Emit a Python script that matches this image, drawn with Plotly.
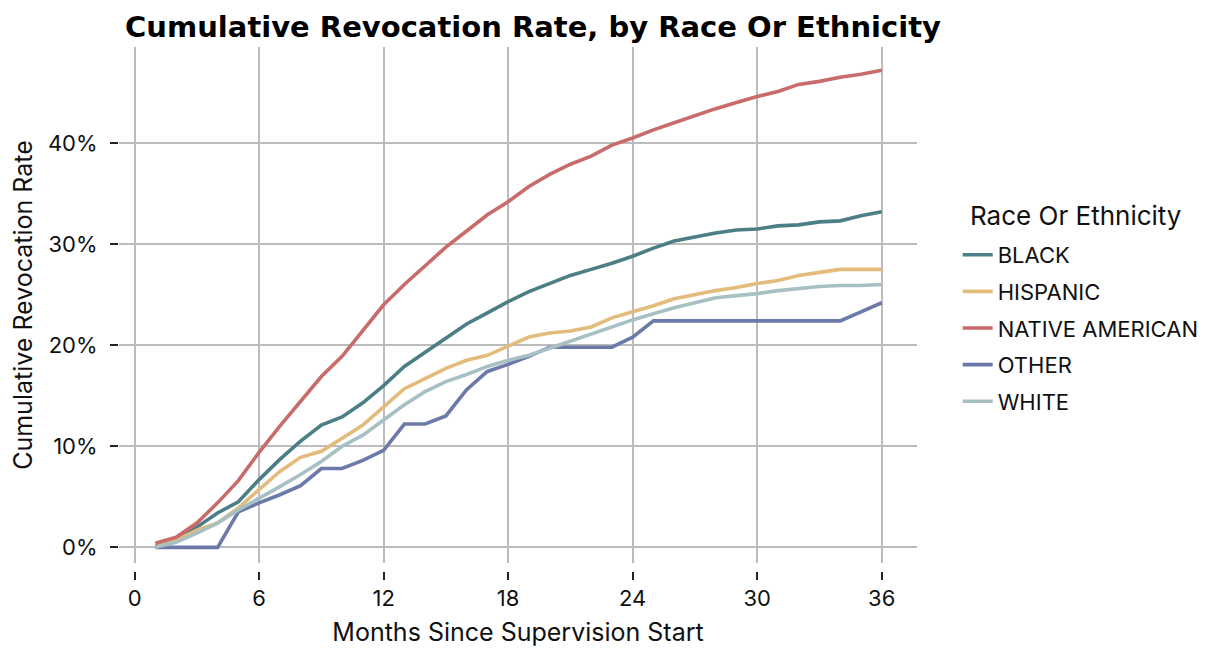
import plotly.graph_objects as go

months = list(range(1, 37))

black = [0.1, 0.7, 2.0, 3.4, 4.5, 6.7, 8.7, 10.5, 12.1, 12.9, 14.3, 16.0, 17.9, 19.3, 20.7, 22.1, 23.2, 24.3,
         25.3, 26.1, 26.9, 27.5, 28.1, 28.8, 29.6, 30.3, 30.7, 31.1, 31.4, 31.5, 31.8, 31.9, 32.2, 32.3, 32.8, 33.2]
hispanic = [0.05, 0.7, 1.7, 2.4, 3.9, 5.7, 7.5, 8.9, 9.5, 10.8, 12.1, 13.9, 15.7, 16.7, 17.7, 18.5, 19.0, 19.9,
            20.8, 21.2, 21.4, 21.8, 22.7, 23.3, 23.9, 24.6, 25.0, 25.4, 25.7, 26.1, 26.4, 26.9, 27.2, 27.5, 27.5, 27.5]
native_american = [0.4, 1.0, 2.4, 4.4, 6.6, 9.4, 12.0, 14.4, 16.9, 18.9, 21.5, 24.0, 26.0, 27.8, 29.7, 31.3, 32.9, 34.2,
                   35.7, 36.9, 37.9, 38.7, 39.8, 40.5, 41.3, 42.0, 42.7, 43.4, 44.0, 44.6, 45.1, 45.8, 46.1, 46.5, 46.8, 47.2]
other = [0.0, 0.0, 0.0, 0.0, 3.5, 4.4, 5.2, 6.1, 7.8, 7.8, 8.6, 9.6, 12.2, 12.2, 13.0, 15.6, 17.4, 18.1,
         18.9, 19.8, 19.8, 19.8, 19.8, 20.8, 22.4, 22.4, 22.4, 22.4, 22.4, 22.4, 22.4, 22.4, 22.4, 22.4, 23.3, 24.2]
white = [0.0, 0.5, 1.4, 2.4, 3.7, 4.8, 6.0, 7.2, 8.5, 10.0, 11.1, 12.6, 14.1, 15.4, 16.4, 17.1, 17.9, 18.5,
         19.0, 19.7, 20.4, 21.1, 21.8, 22.5, 23.1, 23.7, 24.2, 24.7, 24.9, 25.1, 25.4, 25.6, 25.8, 25.9, 25.9, 26.0]

series_names = ["BLACK", "HISPANIC", "NATIVE AMERICAN", "OTHER", "WHITE"]
series_values = [black, hispanic, native_american, other, white]
colors = ["#4b7f85", "#e3bb7b", "#c96b6b", "#6b7aa8", "#a7c0c4"]

x_ticks = [0, 6, 12, 18, 24, 30, 36]
y_ticks = [0.0, 0.1, 0.2, 0.3, 0.4]

FONT = "Inter"
GRID = "#bcbcbc"

# the page body adds an 8px offset; the figure is sized to fill the rest of the window
W, H = 1217, 646
OFF = 8
plot_l, plot_r, plot_t, paper_b = 113 - OFF, 917 - OFF, 47 - OFF, 571 - OFF
paper_h = paper_b - plot_t
plot_w = plot_r - plot_l

fig = go.Figure()
for name, vals, col in zip(series_names, series_values, colors):
    fig.add_trace(go.Scatter(
        x=months, y=[v / 100 for v in vals], mode="lines", name=name,
        legendgroup=name,
        line=dict(color=col, width=3.6),
    ))

# invisible helper trace so the offset x axis is drawn
fig.add_trace(go.Scatter(x=months, y=[v / 100 for v in black], xaxis="x2", mode="lines",
                         line=dict(width=0), opacity=0, showlegend=False, hoverinfo="skip"))

xr = [-0.75, 37.7]
fig.update_layout(
    width=W, height=H,
    margin=dict(l=plot_l, r=W - plot_r, t=plot_t, b=H - paper_b),
    paper_bgcolor="white", plot_bgcolor="white",
    font=dict(family=FONT, color="#111111", size=22),
    title=dict(text="<b>Cumulative Revocation Rate, by Race Or Ethnicity</b>",
               font=dict(family="DejaVu Sans", size=29, color="#000000"),
               xref="container", x=(533 - OFF) / W, xanchor="center",
               yref="container", y=1 - (27 - OFF) / H, yanchor="middle"),
    xaxis=dict(range=xr, tickvals=x_ticks, showticklabels=False, ticks="",
               showgrid=True, gridcolor=GRID, gridwidth=1.6, zeroline=False, showline=False),
    xaxis2=dict(range=xr, overlaying="x", anchor="free", position=0, side="bottom",
                tickvals=x_ticks, ticks="outside", ticklen=8, tickwidth=2, tickcolor="#222222",
                showgrid=False, zeroline=False, showline=False,
                tickfont=dict(size=22), ticklabelstandoff=0,
                title=dict(text="Months Since Supervision Start", font=dict(size=25), standoff=13)),
    yaxis=dict(range=[-0.0155, 0.495], domain=[8 / paper_h, 1], tickvals=y_ticks, tickformat=".0%",
               ticks="outside", ticklen=8, tickwidth=2, tickcolor="#222222",
               showgrid=True, gridcolor=GRID, gridwidth=1.6, zeroline=False, showline=False,
               tickfont=dict(size=22), ticklabelstandoff=8,
               title=dict(text="Cumulative Revocation Rate", font=dict(size=25), standoff=10)),
    legend=dict(x=(958 - 113) / plot_w, xanchor="left",
                y=(571 - 234) / paper_h, yanchor="top",
                font=dict(size=22), tracegroupgap=5),
    annotations=[dict(text="Race Or Ethnicity", xref="paper", yref="paper",
                      x=(1077 - 113) / plot_w, y=(571 - 215) / paper_h,
                      xanchor="center", yanchor="middle", showarrow=False,
                      font=dict(size=26, color="#111111"))],
    showlegend=True,
)

fig.write_html("out.html")
